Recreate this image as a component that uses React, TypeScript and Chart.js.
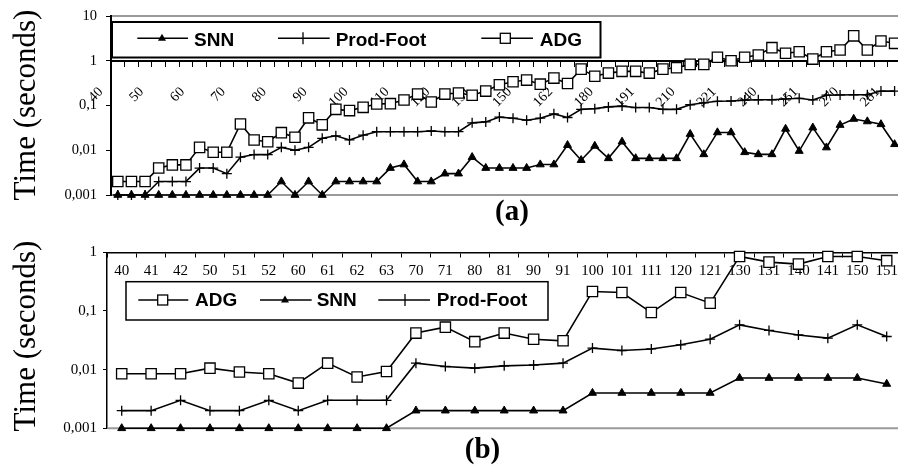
import React, { useEffect, useRef } from 'react';
import { Chart, registerables } from 'chart.js';

Chart.register(...registerables);

// ---------- data: panel (a) ----------
const catsA = ['40','41','42','50','51','52','60','61','62','70','71','72','80','81','82','90','91','92','100','101','102','110','111','112','120','121','122','131','140','141','150','151','160','162','170','171','180','181','190','191','200','201','210','211','220','221','230','231','240','241','250','251','260','261','270','271','280','281'];
const snnA = [0.001,0.001,0.001,0.001,0.001,0.001,0.001,0.001,0.001,0.001,0.001,0.001,
  0.002,0.001,0.002,0.001,0.002,0.002,0.002,0.002,0.004,0.0048,0.002,0.002,0.003,0.003,0.007,
  0.004,0.004,0.004,0.004,0.0048,0.0048,0.013,0.006,0.0125,0.0066,0.0155,0.0066,0.0066,0.0066,0.0066,
  0.023,0.0081,0.025,0.025,0.009,0.0081,0.0081,0.03,0.0096,0.032,0.0115,0.0366,0.05,0.044,0.038,0.0136];
const prodA = [0.001,0.001,0.001,0.002,0.002,0.002,0.004,0.004,0.003,0.007,0.008,0.008,0.0116,0.01,0.0116,
  0.0185,0.021,0.017,0.0217,0.026,0.026,0.026,0.026,0.027,0.026,0.026,0.041,0.043,0.055,0.052,0.047,0.052,
  0.065,0.054,0.082,0.085,0.093,0.097,0.09,0.09,0.082,0.082,0.104,0.115,0.124,0.126,0.132,0.134,0.134,0.14,
  0.145,0.133,0.17,0.172,0.174,0.174,0.21,0.21];
const adgA = [0.002,0.002,0.002,0.004,0.0047,0.0047,0.0116,0.009,0.009,0.0386,0.017,0.0155,0.0247,0.0195,
  0.053,0.037,0.082,0.077,0.091,0.108,0.11,0.133,0.18,0.12,0.18,0.19,0.17,0.21,0.29,0.34,0.37,0.30,0.41,0.31,
  0.65,0.45,0.53,0.58,0.58,0.53,0.65,0.7,0.83,0.83,1.2,1.0,1.2,1.34,1.96,1.47,1.59,1.09,1.59,1.74,3.6,1.74,2.76,2.45];
const yTicksA = [0.001, 0.01, 0.1, 1, 10];
const yTickLabelsA = ['0,001', '0,01', '0,1', '1', '10'];

// ---------- data: panel (b) ----------
const catsB = ['40','41','42','50','51','52','60','61','62','63','70','71','80','81','90','91','100','101','111','120','121','130','131','140','141','150','151'];
const adgB = [0.0085,0.0085,0.0085,0.0106,0.0091,0.0085,0.0059,0.0129,0.0075,0.0093,0.042,0.053,0.030,0.042,0.033,0.031,0.215,0.206,0.094,0.206,0.136,0.85,0.68,0.63,0.85,0.85,0.72];
const snnB = [0.001,0.001,0.001,0.001,0.001,0.001,0.001,0.001,0.001,0.001,0.002,0.002,0.002,0.002,0.002,0.002,0.004,0.004,0.004,0.004,0.004,0.0072,0.0072,0.0072,0.0072,0.0072,0.0057];
const prodB = [0.002,0.002,0.003,0.002,0.002,0.003,0.002,0.003,0.003,0.003,0.0129,0.0113,0.0106,0.0116,0.012,0.0129,0.0233,0.0212,0.0225,0.0265,0.033,0.058,0.0466,0.039,0.0344,0.058,0.0367];
const yTicksB = [0.001, 0.01, 0.1, 1];
const yTickLabelsB = ['0,001', '0,01', '0,1', '1'];

const yTitle = 'Time (seconds)';
const panelLabelA = '(a)';
const panelLabelB = '(b)';

// ---------- styles ----------
const SERIF = "'Liberation Serif', 'Times New Roman', serif";
const SANS = "'Liberation Sans', Arial, sans-serif";

type Kind = 'tri' | 'plus' | 'sq';

function ds(label: string, data: number[], kind: Kind) {
  const base: any = { label, data, borderColor: '#000', borderWidth: 1.6, tension: 0, fill: false, clip: false, pointBorderColor: '#000' };
  if (kind === 'tri') return { ...base, pointStyle: 'triangle', pointRadius: 4.6, pointBackgroundColor: '#000', pointBorderWidth: 1 };
  if (kind === 'plus') return { ...base, pointStyle: 'cross', pointRadius: 5, pointBorderWidth: 1.3, pointBackgroundColor: '#000' };
  return { ...base, pointStyle: 'rect', pointRadius: 7.3, pointBackgroundColor: '#fff', pointBorderWidth: 1.3 };
}

function drawMarker(ctx: CanvasRenderingContext2D, kind: Kind, x: number, y: number) {
  ctx.save();
  ctx.strokeStyle = '#000';
  ctx.fillStyle = '#000';
  ctx.lineWidth = 1.3;
  if (kind === 'tri') {
    ctx.beginPath();
    ctx.moveTo(x, y - 4.5);
    ctx.lineTo(x + 4, y + 2.5);
    ctx.lineTo(x - 4, y + 2.5);
    ctx.closePath();
    ctx.fill();
  } else if (kind === 'plus') {
    ctx.beginPath();
    ctx.moveTo(x, y - 6);
    ctx.lineTo(x, y + 6);
    ctx.stroke();
  } else {
    ctx.fillStyle = '#fff';
    ctx.fillRect(x - 5, y - 5, 10, 10);
    ctx.strokeRect(x - 5, y - 5, 10, 10);
  }
  ctx.restore();
}

type LegendItem = { label: string; kind: Kind; x1: number; x2: number; mx: number; tx: number };
type Decor = {
  grayTop: boolean;
  box: [number, number, number, number];
  boxLine: number;
  lineY: number;
  textY: number;
  items: LegendItem[];
  titleX: number;
  titleY: number;
  panelLabel: string;
  panelX: number;
  panelY: number;
};

function makeDecor(d: Decor) {
  return {
    id: 'decor',
    beforeDatasetsDraw(chart: any) {
      const { ctx, chartArea } = chart;
      const { left, right, top, bottom } = chartArea;
      ctx.save();
      ctx.strokeStyle = '#9a9a9a';
      ctx.lineWidth = 2;
      ctx.beginPath();
      if (d.grayTop) { ctx.moveTo(left + 1, top); ctx.lineTo(right, top); }
      ctx.moveTo(right, top); ctx.lineTo(right, bottom);
      ctx.moveTo(left + 1, bottom); ctx.lineTo(right, bottom);
      ctx.stroke();
      ctx.restore();
    },
    afterDatasetsDraw(chart: any) {
      const ctx: CanvasRenderingContext2D = chart.ctx;
      const [bx, by, bw, bh] = d.box;
      ctx.save();
      ctx.fillStyle = '#fff';
      ctx.fillRect(bx, by, bw, bh);
      ctx.strokeStyle = '#000';
      ctx.lineWidth = d.boxLine;
      ctx.strokeRect(bx, by, bw, bh);
      ctx.lineWidth = 1.5;
      ctx.font = `bold 19px ${SANS}`;
      ctx.textAlign = 'left';
      ctx.textBaseline = 'alphabetic';
      ctx.fillStyle = '#000';
      for (const it of d.items) {
        ctx.beginPath();
        ctx.moveTo(it.x1, d.lineY);
        ctx.lineTo(it.x2, d.lineY);
        ctx.stroke();
        drawMarker(ctx, it.kind, it.mx, d.lineY);
        ctx.fillStyle = '#000';
        ctx.fillText(it.label, it.tx, d.textY);
      }
      ctx.restore();
    },
    afterDraw(chart: any) {
      const ctx: CanvasRenderingContext2D = chart.ctx;
      ctx.save();
      ctx.fillStyle = '#000';
      ctx.font = `31px ${SERIF}`;
      ctx.textAlign = 'center';
      ctx.textBaseline = 'alphabetic';
      ctx.translate(d.titleX, d.titleY);
      ctx.rotate(-Math.PI / 2);
      ctx.fillText(yTitle, 0, 0);
      ctx.restore();
      ctx.save();
      ctx.fillStyle = '#000';
      ctx.font = `bold 29px ${SERIF}`;
      ctx.textAlign = 'center';
      ctx.textBaseline = 'alphabetic';
      ctx.fillText(d.panelLabel, d.panelX, d.panelY);
      ctx.restore();
    },
  };
}

function buildConfig(p: {
  cats: string[];
  datasets: any[];
  yTicks: number[];
  yLabels: string[];
  yMax: number;
  padding: { left: number; top: number; right: number; bottom: number };
  yWidth: number;
  axisW: number;
  tickLen: number;
  yPad: number;
  yFont: number;
  xFont: number;
  xPad: number;
  rotation: number;
  labelOffset: number;
  every: number;
  decor: Decor;
}): any {
  return {
    type: 'line',
    data: { labels: p.cats, datasets: p.datasets },
    options: {
      responsive: false,
      animation: false,
      devicePixelRatio: 1,
      events: [],
      layout: { padding: p.padding },
      plugins: { legend: { display: false }, tooltip: { enabled: false } },
      scales: {
        x: {
          type: 'category',
          offset: true,
          position: { y: 1 },
          grid: { display: true, offset: true, drawOnChartArea: false, drawTicks: true, tickLength: p.tickLen, color: '#000', tickColor: '#000', lineWidth: 1 },
          border: { display: true, color: '#000', width: p.axisW },
          ticks: {
            autoSkip: false,
            minRotation: p.rotation,
            maxRotation: p.rotation,
            padding: p.xPad,
            labelOffset: p.labelOffset,
            color: '#000',
            font: { family: SERIF, size: p.xFont },
            callback: (_v: any, i: number) => (i % p.every === 0 ? p.cats[i] : ''),
          },
          afterFit: (s: any) => { s.height = 0; s.paddingLeft = 0; s.paddingRight = 0; },
        },
        y: {
          type: 'logarithmic',
          position: 'left',
          min: 0.001,
          max: p.yMax,
          grid: { display: true, drawOnChartArea: false, drawTicks: true, tickLength: p.tickLen, color: '#000', tickColor: '#000', lineWidth: 1 },
          border: { display: true, color: '#000', width: p.axisW },
          afterBuildTicks: (s: any) => { s.ticks = p.yTicks.map((v) => ({ value: v })); },
          ticks: {
            padding: p.yPad,
            color: '#000',
            font: { family: SERIF, size: p.yFont },
            callback: (v: any) => { const k = p.yTicks.indexOf(v); return k >= 0 ? p.yLabels[k] : ''; },
          },
          afterFit: (s: any) => { s.width = p.yWidth; s.paddingTop = 0; s.paddingBottom = 0; },
        },
      },
    },
    plugins: [makeDecor(p.decor)],
  };
}

export default function App() {
  const refA = useRef<HTMLCanvasElement>(null);
  const refB = useRef<HTMLCanvasElement>(null);

  useEffect(() => {
    const a = new Chart(refA.current as HTMLCanvasElement, buildConfig({
      cats: catsA,
      datasets: [ds('SNN', snnA, 'tri'), ds('Prod-Foot', prodA, 'plus'), ds('ADG', adgA, 'sq')],
      yTicks: yTicksA,
      yLabels: yTickLabelsA,
      yMax: 10,
      padding: { left: 0, top: 16, right: 6.5, bottom: 35 },
      yWidth: 111,
      axisW: 2,
      tickLen: 5,
      yPad: 9,
      yFont: 14.5,
      xFont: 14,
      xPad: 18,
      rotation: 45,
      labelOffset: -17,
      every: 3,
      decor: {
        grayTop: true,
        box: [112, 22, 488.5, 35.5],
        boxLine: 2,
        lineY: 38.3,
        textY: 45.5,
        items: [
          { label: 'SNN', kind: 'tri', x1: 137.3, x2: 188, mx: 162, tx: 194 },
          { label: 'Prod-Foot', kind: 'plus', x1: 278, x2: 329.7, mx: 303, tx: 335.7 },
          { label: 'ADG', kind: 'sq', x1: 481.3, x2: 533, mx: 505.3, tx: 539.7 },
        ],
        titleX: 35,
        titleY: 105,
        panelLabel: panelLabelA,
        panelX: 512,
        panelY: 220,
      },
    }));
    const b = new Chart(refB.current as HTMLCanvasElement, buildConfig({
      cats: catsB,
      datasets: [ds('ADG', adgB, 'sq'), ds('SNN', snnB, 'tri'), ds('Prod-Foot', prodB, 'plus')],
      yTicks: yTicksB,
      yLabels: yTickLabelsB,
      yMax: 1,
      padding: { left: 0, top: 22.3, right: 2.5, bottom: 36.7 },
      yWidth: 107,
      axisW: 1.5,
      tickLen: 4,
      yPad: 6,
      yFont: 15,
      xFont: 15,
      xPad: 6,
      rotation: 0,
      labelOffset: 0,
      every: 1,
      decor: {
        grayTop: false,
        box: [126, 51.7, 422, 38.3],
        boxLine: 1.5,
        lineY: 70,
        textY: 76,
        items: [
          { label: 'ADG', kind: 'sq', x1: 138.3, x2: 188.3, mx: 162.7, tx: 195 },
          { label: 'SNN', kind: 'tri', x1: 260, x2: 311.7, mx: 285, tx: 316.7 },
          { label: 'Prod-Foot', kind: 'plus', x1: 378.3, x2: 430, mx: 405, tx: 436.7 },
        ],
        titleX: 35,
        titleY: 106,
        panelLabel: panelLabelB,
        panelX: 482.5,
        panelY: 228,
      },
    }));
    return () => { a.destroy(); b.destroy(); };
  }, []);

  return (
    <div style={{ position: 'fixed', left: 0, top: 0, width: 898, height: 465, overflow: 'hidden', background: '#fff' }}>
      <canvas ref={refA} width={910} height={230} style={{ position: 'absolute', left: 0, top: 0, width: 910, height: 230, display: 'block' }} />
      <canvas ref={refB} width={910} height={235} style={{ position: 'absolute', left: 0, top: 230, width: 910, height: 235, display: 'block' }} />
    </div>
  );
}
